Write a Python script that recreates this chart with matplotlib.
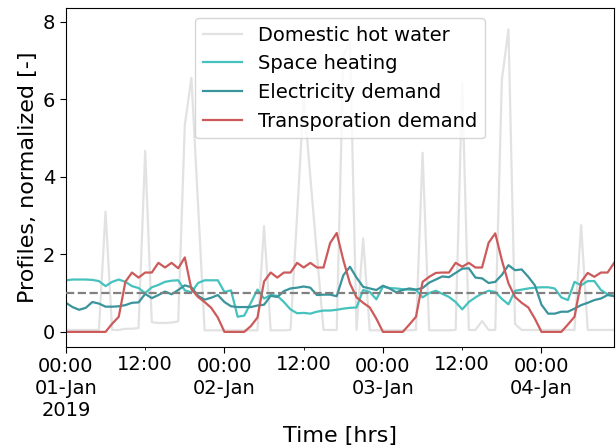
import numpy as np
import pandas as pd
import matplotlib
matplotlib.use("Agg")
import matplotlib.pyplot as plt

# ─── DATA (hourly, normalized profiles) ──────────────────────
START = "2019-01-01 00:00"
N_HOURS = 84

dhw = [
    0.05, 0.05, 0.05, 0.05, 0.05, 0.05, 3.10, 0.05, 0.05, 0.08, 0.08, 0.10,
    4.67, 0.25, 0.23, 0.23, 0.24, 0.27, 5.33, 6.55, 3.30, 0.04, 0.04, 0.04,
    0.04, 0.04, 0.04, 0.04, 0.04, 0.04, 2.73, 0.04, 0.04, 0.04, 0.05, 3.00,
    6.05, 4.00, 2.00, 0.05, 0.05, 0.05, 7.10, 7.50, 0.05, 2.41, 0.04, 0.04,
    0.04, 0.04, 0.04, 0.04, 0.04, 0.05, 4.62, 0.04, 0.04, 0.04, 0.04, 0.05,
    6.40, 0.05, 0.05, 0.28, 0.05, 0.05, 6.50, 7.80, 0.20, 0.05, 0.05, 0.05,
    0.05, 0.05, 0.05, 0.05, 0.05, 0.05, 2.75, 0.05, 0.05, 0.05, 0.05, 0.05,
]

space_heating = [
    1.33, 1.35, 1.35, 1.35, 1.34, 1.31, 1.18, 1.29, 1.35, 1.29, 1.18, 1.13,
    1.00, 1.15, 1.21, 1.29, 1.32, 1.33, 1.07, 1.02, 1.26, 1.33, 1.33, 1.33,
    1.03, 1.07, 0.39, 0.42, 0.75, 1.09, 0.86, 0.95, 0.93, 0.77, 0.58, 0.48,
    0.49, 0.47, 0.52, 0.55, 0.55, 0.57, 0.60, 0.62, 0.63, 1.08, 1.03, 0.84,
    1.17, 1.13, 1.12, 1.10, 1.09, 1.08, 0.89, 1.00, 1.06, 0.98, 0.90, 0.77,
    0.58, 0.77, 0.89, 0.99, 1.06, 1.03, 0.85, 0.71, 1.06, 1.09, 1.12, 1.14,
    1.15, 1.15, 1.12, 0.89, 0.82, 1.29, 1.20, 1.31, 1.31, 1.08, 0.97, 0.93,
]

electricity = [
    0.75, 0.64, 0.57, 0.62, 0.77, 0.73, 0.65, 0.65, 0.66, 0.69, 0.75, 0.76,
    0.98, 0.87, 0.95, 1.04, 0.97, 1.08, 1.20, 1.15, 0.93, 0.83, 0.88, 0.95,
    0.77, 0.66, 0.64, 0.64, 0.64, 0.68, 0.70, 0.93, 0.90, 1.05, 1.12, 1.14,
    1.17, 1.14, 0.95, 0.96, 0.96, 0.92, 1.46, 1.68, 1.40, 1.16, 1.12, 1.08,
    1.19, 1.12, 1.02, 1.08, 1.12, 1.09, 1.13, 1.27, 1.35, 1.43, 1.41, 1.52,
    1.63, 1.64, 1.40, 1.38, 1.26, 1.29, 1.47, 1.72, 1.59, 1.61, 1.42, 1.20,
    0.70, 0.47, 0.47, 0.52, 0.52, 0.60, 0.69, 0.75, 0.82, 0.86, 0.95, 0.92,
]

transport = [
    0.00, 0.00, 0.00, 0.00, 0.00, 0.00, 0.00, 0.21, 0.39, 1.29, 1.53, 1.40,
    1.53, 1.53, 1.78, 1.66, 1.78, 1.64, 1.92, 1.10, 0.90, 0.77, 0.62, 0.37,
    0.00, 0.00, 0.00, 0.00, 0.15, 0.37, 1.30, 1.53, 1.40, 1.53, 1.53, 1.78,
    1.66, 1.78, 1.66, 1.66, 2.29, 2.55, 1.85, 1.25, 0.89, 0.75, 0.63, 0.34,
    0.00, 0.00, 0.00, 0.00, 0.19, 0.39, 1.29, 1.42, 1.52, 1.53, 1.53, 1.78,
    1.68, 1.78, 1.66, 1.66, 2.30, 2.54, 1.85, 1.25, 0.90, 0.75, 0.63, 0.34,
    0.00, 0.00, 0.00, 0.00, 0.19, 0.39, 1.29, 1.52, 1.42, 1.53, 1.53, 1.78,
]

SERIES = [
    ("Domestic hot water", dhw, "#e2e2e2"),
    ("Space heating", space_heating, "#45c2bd"),
    ("Electricity demand", electricity, "#3a949c"),
    ("Transporation demand", transport, "#cd5a5a"),
]

MAJOR_TICKS = ["2019-01-01", "2019-01-02", "2019-01-03", "2019-01-04"]
MAJOR_LABELS = ["00:00\n01-Jan\n2019", "00:00\n02-Jan", "00:00\n03-Jan", "00:00\n04-Jan"]
MINOR_TICKS = ["2019-01-01 12:00", "2019-01-02 12:00", "2019-01-03 12:00"]
MINOR_LABELS = ["12:00", "12:00", "12:00"]


def main():
    idx = pd.date_range(START, periods=N_HOURS, freq="h")
    df = pd.DataFrame({name: vals for name, vals, _ in SERIES}, index=idx)

    fig = plt.figure(figsize=(6.16, 4.47), dpi=100)
    ax = fig.add_axes([0.107, 0.2237, 0.89, 0.7583])

    for name, _, color in SERIES:
        ax.plot(df.index, df[name], color=color, linewidth=1.6, label=name)
    ax.axhline(1.0, color="gray", linestyle="--", linewidth=1.6, zorder=5)

    ax.set_xlim(df.index[0], df.index[-1])
    ax.set_ylim(-0.39, 8.35)
    ax.set_yticks([0, 2, 4, 6, 8])

    ax.set_xticks(pd.to_datetime(MAJOR_TICKS))
    ax.set_xticklabels(MAJOR_LABELS)
    ax.set_xticks(pd.to_datetime(MINOR_TICKS), minor=True)
    ax.set_xticklabels(MINOR_LABELS, minor=True)
    ax.tick_params(axis="both", which="major", labelsize=14, length=4)
    ax.tick_params(axis="x", which="minor", labelsize=14, length=2.5)

    ax.set_xlabel("Time [hrs]", fontsize=16)
    ax.set_ylabel("Profiles, normalized [-]", fontsize=16)
    ax.legend(loc="upper center", fontsize=14)

    fig.savefig("out.png", dpi=100)


if __name__ == "__main__":
    main()
